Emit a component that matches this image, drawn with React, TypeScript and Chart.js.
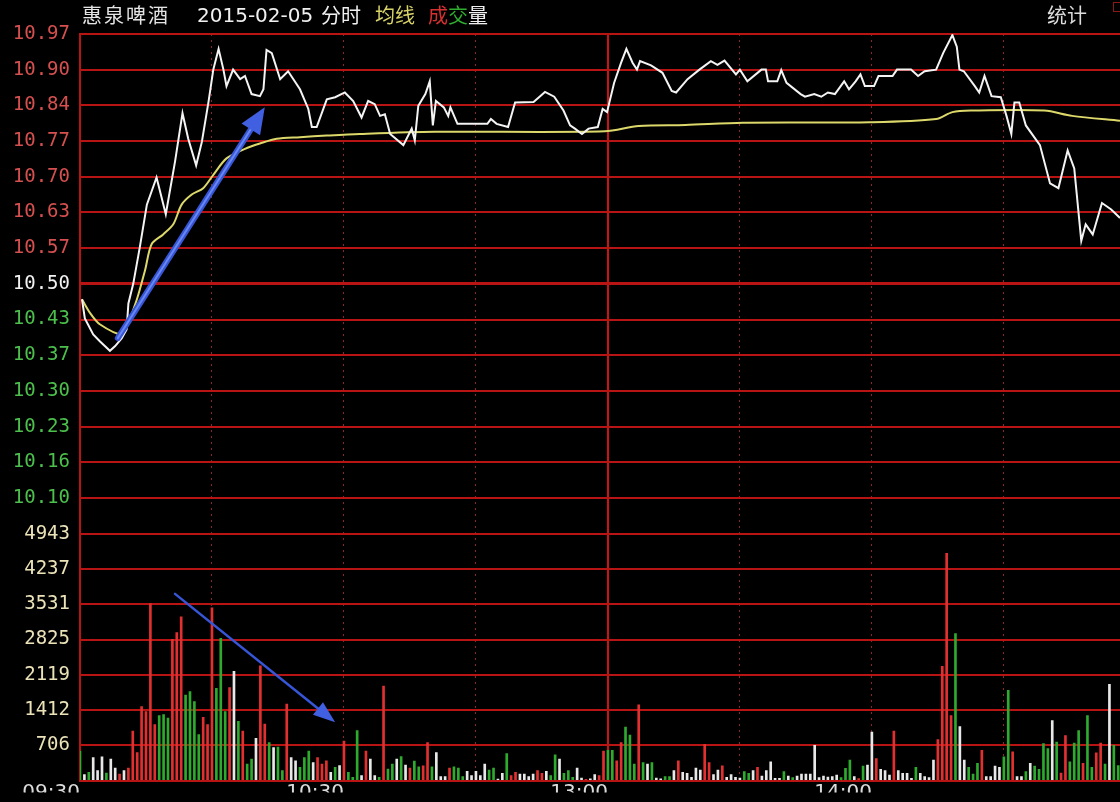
import React, { useEffect, useRef } from "react";
import { Chart, registerables } from "chart.js";

Chart.register(...registerables);

// ---- data (minutes after 09:30, trading minutes; 120 = 13:00) ----
const PRICE_TIMES = [
  0.45, 1.1, 3.0, 4.5, 6.8, 8.0, 9.5, 10.6, 11.0, 12.1, 13.6, 15.2, 17.4, 19.5, 21.6, 23.3, 24.6, 26.4, 27.7, 29.2,
  30.3, 31.5, 32.6, 33.3, 34.8, 36.4, 37.5, 39.0, 40.9, 41.7, 42.4, 43.6, 45.5, 47.3, 50.0, 51.9, 52.7, 53.8, 56.1, 58.0,
  60.2, 62.1, 64.0, 65.5, 67.0, 68.2, 69.3, 70.5, 73.5, 75.4, 76.1, 76.9, 78.5, 79.5, 80.2, 80.9, 82.7, 83.7, 84.2, 85.8,
  92.6, 93.4, 94.7, 97.3, 98.9, 103.1, 105.7, 107.8, 109.9, 111.4, 112.5, 114.1, 115.6, 117.7, 118.8, 119.8, 121.4, 123.0, 124.2, 125.6,
  126.6, 127.3, 129.8, 132.4, 134.5, 135.5, 138.1, 140.8, 143.4, 144.9, 146.5, 149.1, 150.0, 151.7, 154.9, 155.9, 156.4, 158.5, 159.4, 160.6,
  163.8, 164.8, 166.9, 168.5, 170.0, 171.6, 173.7, 174.8, 176.3, 177.4, 178.4, 180.5, 181.5, 184.7, 185.7, 188.9, 190.5, 192.0, 194.6, 196.2,
  198.3, 199.3, 199.9, 200.9, 203.4, 204.4, 205.6, 207.2, 209.3, 210.6, 211.7, 212.4, 213.5, 215.0, 218.2, 220.5, 222.4, 224.5, 226.0, 227.6,
  228.6, 230.2, 232.3, 234.4, 236.4,
];
const PRICES = [
  10.471, 10.435, 10.405, 10.392, 10.374, 10.383, 10.398, 10.414, 10.463, 10.5, 10.569, 10.649, 10.7, 10.631, 10.73, 10.821, 10.773, 10.723, 10.767, 10.842,
  10.903, 10.942, 10.903, 10.872, 10.903, 10.885, 10.891, 10.857, 10.853, 10.866, 10.94, 10.934, 10.885, 10.9, 10.866, 10.829, 10.795, 10.795, 10.847, 10.851,
  10.86, 10.844, 10.813, 10.844, 10.838, 10.816, 10.819, 10.782, 10.761, 10.792, 10.77, 10.835, 10.857, 10.881, 10.798, 10.844, 10.832, 10.816, 10.832, 10.801,
  10.801, 10.81, 10.801, 10.795, 10.841, 10.842, 10.861, 10.852, 10.826, 10.798, 10.792, 10.782, 10.792, 10.795, 10.829, 10.823, 10.878, 10.916, 10.942, 10.916,
  10.903, 10.919, 10.911, 10.897, 10.863, 10.86, 10.885, 10.903, 10.919, 10.912, 10.92, 10.894, 10.903, 10.881, 10.903, 10.903, 10.881, 10.881, 10.902, 10.878,
  10.857, 10.852, 10.857, 10.852, 10.86, 10.857, 10.881, 10.866, 10.881, 10.894, 10.872, 10.872, 10.891, 10.891, 10.903, 10.903, 10.891, 10.9, 10.903, 10.934,
  10.968, 10.946, 10.903, 10.9, 10.872, 10.86, 10.891, 10.853, 10.851, 10.816, 10.782, 10.841, 10.841, 10.798, 10.761, 10.689, 10.68, 10.751, 10.717, 10.581,
  10.612, 10.593, 10.652, 10.64, 10.624,
];
const AVG_TIMES = [
  0.45, 2.3, 4.5, 9.5, 10.9, 12.9, 14.8, 16.3, 18.9, 21.2, 23.1, 25.4, 28.0, 30.3, 33.3, 37.5, 40.9, 44.7, 50.0, 56.1,
  63.6, 80.6, 119.3, 127.0, 137.6, 150.7, 179.5, 194.6, 198.3, 202.5, 219.2, 225.5, 236.4,
];
const AVG_PRICES = [
  10.471, 10.445, 10.424, 10.405, 10.426, 10.47, 10.526, 10.575, 10.593, 10.612, 10.649, 10.668, 10.68, 10.705, 10.736, 10.754, 10.764, 10.773, 10.776, 10.779,
  10.782, 10.786, 10.787, 10.797, 10.799, 10.803, 10.804, 10.81, 10.823, 10.826, 10.826, 10.816, 10.807,
];
// one volume bar per minute, 0..236
const VOLUMES = [
  590, 120, 165, 460, 200, 475, 150, 430, 250, 130,
  200, 250, 990, 560, 1480, 1380, 3545, 1120, 1300, 1320,
  1250, 2830, 2965, 3280, 1710, 1780, 1580, 920, 1265, 1120,
  3460, 1845, 2850, 1380, 1860, 2190, 1185, 990, 330, 430,
  845, 2300, 1130, 760, 660, 670, 200, 1530, 460, 395,
  265, 460, 590, 360, 460, 330, 395, 165, 265, 300,
  790, 165, 65, 1000, 100, 590, 430, 100, 65, 1890,
  230, 330, 430, 480, 310, 250, 390, 277, 297, 760,
  277, 560, 80, 80, 250, 277, 250, 80, 185, 100,
  185, 100, 330, 210, 250, 30, 145, 540, 100, 165,
  130, 130, 80, 130, 200, 145, 185, 100, 515, 430,
  145, 200, 65, 250, 50, 26, 33, 120, 100, 590,
  605, 605, 395, 760, 1070, 910, 330, 1515, 360, 330,
  360, 50, 33, 80, 80, 200, 395, 165, 145, 65,
  250, 210, 725, 360, 120, 210, 297, 65, 120, 65,
  50, 180, 145, 200, 265, 92, 200, 375, 46, 46,
  180, 92, 60, 92, 130, 130, 130, 705, 60, 92,
  70, 80, 110, 60, 245, 410, 80, 40, 290, 310,
  970, 440, 225, 200, 110, 990, 200, 145, 145, 46,
  265, 145, 80, 60, 410, 820, 2290, 4550, 1300, 2945,
  1080, 410, 265, 130, 345, 605, 80, 80, 290, 265,
  475, 1805, 575, 80, 80, 180, 345, 290, 225, 740,
  640, 1200, 770, 150, 900, 375, 750, 1000, 345, 1300,
  265, 555, 750, 330, 1925, 705, 300,
];
const VOLUME_COLORS =
  "gwgwwwgwwr" + "wrrrrrrrgg" + "grrrggggrr" + "rgggrwgrgg" + "wrrgwggrww" +
  "gggwrrrwgw" + "rgggwrwwgr" + "ggwgwrggrr" + "gwwwrgggww" + "wwwggwwgrr" +
  "wwwwrrwggw" + "gggwwrwwrr" + "ggrrgggrgw" + "gwwggwrwww" + "wwrrwwrwww" +
  "wggwrwwwww" + "gwgwwwwwww" + "wwwgggwrgw" + "wrwwwrwwww" + "gwwwwrrrrg" +
  "wwgggrwwww" + "ggrwwgwggg" + "gwgrrgggrg" + "grrgwgg";

const PRICE_TICK_LABELS = [
  "10.97", "10.90", "10.84", "10.77", "10.70", "10.63", "10.57", "10.50",
  "10.43", "10.37", "10.30", "10.23", "10.16", "10.10", "",
];
const VOLUME_TICK_LABELS = ["4943", "4237", "3531", "2825", "2119", "1412", "706", ""];
const TIME_TICK_LABELS = ["09:30", "", "10:30", "", "13:00", "", "14:00", ""];

const PREV_CLOSE = 10.5;
const PRICE_STEP = 0.47 / 7;
const VOLUME_MAX = 4943;
const VOLUME_STEP = VOLUME_MAX / 7;
const TIME_STEP = 30;
const VISIBLE_MINUTES = 236.4;

// annotation arrows (data coordinates)
const ARROWS = [
  { axis: "yPrice", from: [8.6, 10.398], to: [42.0, 10.832], width: 6, head: 26, headWidth: 22 },
  { axis: "yVol", from: [21.6, 3738], to: [58.0, 1167], width: 2.5, head: 22, headWidth: 16 },
];

const BAR_COLOR: Record<string, string> = { r: "#e23030", g: "#2eaa2e", w: "#e8e8e8" };
const GRID_RED = "rgb(185,20,20)";

const arrowPlugin = {
  id: "blueArrows",
  afterDatasetsDraw(chart: any) {
    const { ctx, scales } = chart;
    ctx.save();
    ARROWS.forEach((a) => {
      const ys = scales[a.axis];
      const x1 = scales.x.getPixelForValue(a.from[0]);
      const y1 = ys.getPixelForValue(a.from[1]);
      const x2 = scales.x.getPixelForValue(a.to[0]);
      const y2 = ys.getPixelForValue(a.to[1]);
      const ang = Math.atan2(y2 - y1, x2 - x1);
      const bx = x2 - Math.cos(ang) * a.head;
      const by = y2 - Math.sin(ang) * a.head;
      ctx.lineCap = "round";
      ctx.strokeStyle = "rgb(55,85,215)";
      ctx.lineWidth = a.width;
      ctx.beginPath();
      ctx.moveTo(x1, y1);
      ctx.lineTo(bx, by);
      ctx.stroke();
      if (a.width > 4) {
        ctx.strokeStyle = "rgb(105,135,240)";
        ctx.lineWidth = a.width / 3;
        ctx.beginPath();
        ctx.moveTo(x1, y1);
        ctx.lineTo(bx, by);
        ctx.stroke();
      }
      const px = -Math.sin(ang) * (a.headWidth / 2);
      const py = Math.cos(ang) * (a.headWidth / 2);
      ctx.fillStyle = "rgb(65,95,225)";
      ctx.beginPath();
      ctx.moveTo(x2, y2);
      ctx.lineTo(bx + px, by + py);
      ctx.lineTo(bx - px, by - py);
      ctx.closePath();
      ctx.fill();
    });
    ctx.restore();
  },
};

export default function App() {
  const canvasRef = useRef<HTMLCanvasElement | null>(null);

  useEffect(() => {
    const canvas = canvasRef.current;
    if (!canvas) return;
    const chart = new Chart(canvas, {
      type: "line",
      data: {
        datasets: [
          {
            type: "line",
            label: "price",
            data: PRICE_TIMES.map((t, i) => ({ x: t, y: PRICES[i] })),
            xAxisID: "x",
            yAxisID: "yPrice",
            borderColor: "#f4f4f4",
            borderWidth: 2,
            pointRadius: 0,
            tension: 0,
            order: 1,
          },
          {
            type: "line",
            label: "avg",
            data: AVG_TIMES.map((t, i) => ({ x: t, y: AVG_PRICES[i] })),
            xAxisID: "x",
            yAxisID: "yPrice",
            borderColor: "#dcd86a",
            borderWidth: 2,
            pointRadius: 0,
            tension: 0.3,
            order: 2,
          },
          {
            type: "bar",
            label: "volume",
            data: VOLUMES.map((v, i) => ({ x: i, y: v })),
            xAxisID: "x",
            yAxisID: "yVol",
            backgroundColor: VOLUME_COLORS.split("").map((c) => BAR_COLOR[c]),
            barThickness: 2,
            order: 3,
          } as any,
        ],
      },
      options: {
        animation: false,
        responsive: false,
        layout: { padding: { top: 34, left: 0, right: 0, bottom: 0 } },
        plugins: { legend: { display: false }, tooltip: { enabled: false } },
        scales: {
          x: {
            type: "linear",
            offset: false,
            min: 0,
            max: VISIBLE_MINUTES,
            afterBuildTicks: (s: any) => {
              s.ticks = TIME_TICK_LABELS.map((_, i) => ({ value: i * TIME_STEP }));
            },
            afterFit: (s: any) => {
              s.height = 12;
            },
            ticks: {
              autoSkip: false,
              maxRotation: 0,
              align: "end",
              padding: 0,
              color: "#dcdcdc",
              font: { family: "DejaVu Sans", size: 20 },
              callback: (v: any) => TIME_TICK_LABELS[Math.round(Number(v) / TIME_STEP)] ?? "",
            },
            grid: {
              offset: false,
              drawTicks: false,
              color: (c: any) => {
                const v = c.tick ? c.tick.value : -1;
                return v === 0 || v === 120 ? "rgb(200,20,20)" : "rgba(150,45,45,0.9)";
              },
              lineWidth: (c: any) => {
                const v = c.tick ? c.tick.value : -1;
                return v === 0 || v === 120 ? 2 : 1;
              },
            },
            border: {
              color: GRID_RED,
              width: 2,
              dash: (c: any) => {
                const v = c.tick ? c.tick.value : 0;
                return v === 0 || v === 120 ? [] : [2, 4];
              },
            },
          },
          yVol: {
            type: "linear",
            position: "left",
            stack: "main",
            stackWeight: 250,
            weight: 0,
            min: 0,
            max: VOLUME_MAX,
            afterBuildTicks: (s: any) => {
              s.ticks = VOLUME_TICK_LABELS.map((_, i) => ({ value: (7 - i) * VOLUME_STEP })).reverse();
            },
            afterFit: (s: any) => {
              s.width = 80;
            },
            ticks: {
              autoSkip: false,
              padding: 10,
              color: "#ebe2b8",
              font: { family: "DejaVu Sans Mono", size: 19 },
              callback: (v: any) => VOLUME_TICK_LABELS[7 - Math.round(Number(v) / VOLUME_STEP)] ?? "",
            },
            grid: { drawTicks: false, color: GRID_RED, lineWidth: 2 },
            border: { color: GRID_RED, width: 2 },
          },
          yPrice: {
            type: "linear",
            position: "left",
            stack: "main",
            stackWeight: 506,
            weight: 1,
            min: PREV_CLOSE - 7 * PRICE_STEP,
            max: PREV_CLOSE + 7 * PRICE_STEP,
            afterBuildTicks: (s: any) => {
              s.ticks = PRICE_TICK_LABELS.map((_, i) => ({ value: PREV_CLOSE + (7 - i) * PRICE_STEP })).reverse();
            },
            afterFit: (s: any) => {
              s.width = 80;
            },
            ticks: {
              autoSkip: false,
              padding: 10,
              font: { family: "DejaVu Sans Mono", size: 19 },
              color: (c: any) => {
                const v = c.tick ? c.tick.value : PREV_CLOSE;
                if (Math.abs(v - PREV_CLOSE) < 1e-6) return "#f2f2f2";
                return v > PREV_CLOSE ? "#d65050" : "#4cc04c";
              },
              callback: (v: any) =>
                PRICE_TICK_LABELS[7 - Math.round((Number(v) - PREV_CLOSE) / PRICE_STEP)] ?? "",
            },
            grid: {
              drawTicks: false,
              color: GRID_RED,
              lineWidth: (c: any) => {
                const v = c.tick ? c.tick.value : 0;
                return Math.abs(v - PREV_CLOSE) < 1e-6 ? 3 : 2;
              },
            },
            border: { color: GRID_RED, width: 2 },
          },
        },
      } as any,
      plugins: [arrowPlugin],
    });
    return () => chart.destroy();
  }, []);

  const hdr: React.CSSProperties = {
    position: "absolute",
    top: 4,
    fontSize: 20,
    lineHeight: "22px",
    whiteSpace: "nowrap",
    fontFamily: "'DejaVu Sans', 'Noto Sans CJK SC', sans-serif",
  };
  const cjk = "'Noto Sans CJK SC', 'DejaVu Sans', sans-serif";

  return (
    <div
      style={{
        position: "fixed",
        left: 0,
        top: 0,
        width: 1120,
        height: 802,
        background: "#000",
        overflow: "hidden",
      }}
    >
      <canvas ref={canvasRef} width={1120} height={802} style={{ display: "block" }} />
      <div style={{ ...hdr, left: 82, color: "#e4e4e4", fontFamily: cjk, letterSpacing: 2 }}>惠泉啤酒</div>
      <div style={{ ...hdr, left: 197, color: "#f0f0f0" }}>2015-02-05</div>
      <div style={{ ...hdr, left: 321, color: "#f0f0f0", fontFamily: cjk }}>分时</div>
      <div style={{ ...hdr, left: 375, color: "#d8d468", fontFamily: cjk }}>均线</div>
      <div style={{ ...hdr, left: 428, fontFamily: cjk }}>
        <span style={{ color: "#d83030" }}>成</span>
        <span style={{ color: "#2fae2f" }}>交</span>
        <span style={{ color: "#f0f0f0" }}>量</span>
      </div>
      <div style={{ ...hdr, left: 1047, color: "#dcdcdc", fontFamily: cjk }}>统计</div>
      <div
        style={{
          position: "absolute",
          left: 1113,
          top: 2,
          width: 8,
          height: 10,
          border: "1px solid #8a1a1a",
          boxSizing: "border-box",
        }}
      />
    </div>
  );
}
